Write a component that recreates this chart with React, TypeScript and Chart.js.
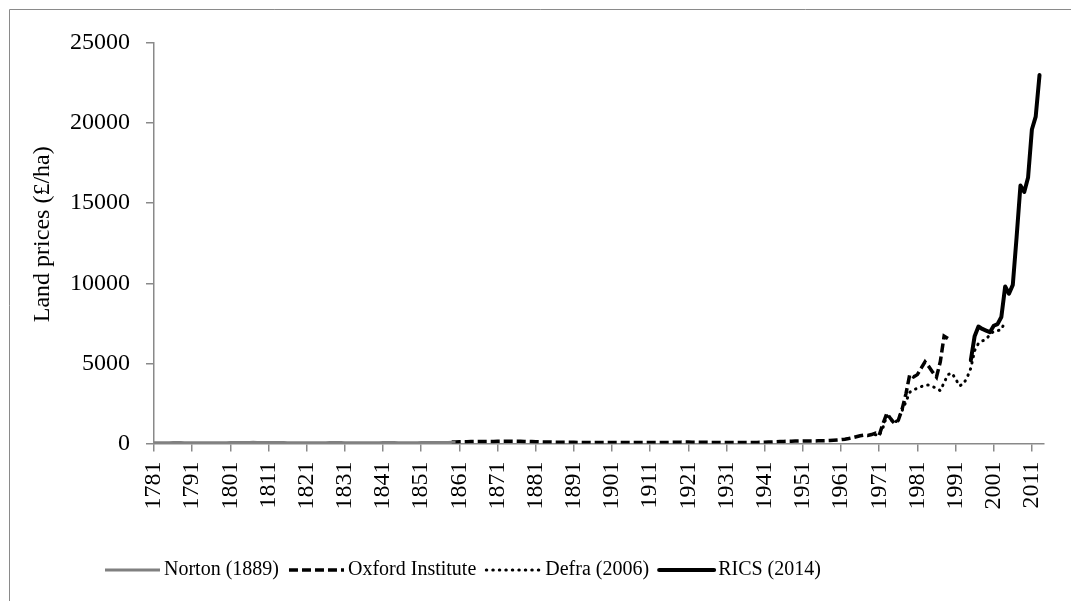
import React, { useEffect, useRef } from "react";
import { Chart, registerables } from "chart.js";

Chart.register(...registerables);

// ---- Axis definitions ----
const FIRST_YEAR = 1781;
const LAST_YEAR = 2014;
const xTickYears = [1781, 1791, 1801, 1811, 1821, 1831, 1841, 1851, 1861, 1871, 1881, 1891, 1901, 1911, 1921, 1931, 1941, 1951, 1961, 1971, 1981, 1991, 2001, 2011];
const yTickValues = [0, 5000, 10000, 15000, 20000, 25000];
const yTitle = "Land prices (£/ha)";

// ---- Series (annual values, £/ha) ----
const nortonLabel = "Norton (1889)";
const nortonStart = 1781;
const nortonValues = [
  40, 42, 45, 48, 52, 55, 58, 55, 50, 47,
  45, 44, 46, 48, 50, 47, 45, 44, 47, 52,
  56, 60, 62, 65, 68, 70, 72, 70, 66, 62,
  60, 62, 64, 60, 55, 50, 48, 47, 45, 44,
  42, 40, 42, 45, 48, 52, 55, 57, 58, 56,
  54, 52, 50, 48, 47, 46, 48, 50, 52, 54,
  56, 58, 57, 55, 52, 50, 49, 50, 52, 54,
  56, 58, 60, 62, 64, 66, 68, 70, 72, 74,
];

const oxfordLabel = "Oxford Institute";
const oxfordStart = 1859;
const oxfordValues = [
  95, 100, 105, 110, 115, 118, 120, 122, 125, 128, 130,
  132, 135, 138, 140, 142, 140, 138, 135, 132, 128,
  120, 112, 105, 100, 95, 90, 85, 82, 80, 78,
  75, 72, 70, 68, 65, 62, 60, 60, 60, 60,
  62, 61, 60, 60, 59, 60, 61, 62, 62, 63,
  64, 64, 65, 66, 66, 66, 68, 72, 78, 85,
  90, 88, 82, 78, 75, 74, 72, 70, 70, 68,
  66, 64, 60, 58, 58, 60, 62, 64, 66, 68,
  72, 80, 90, 100, 110, 120, 130, 140, 145, 150,
  155, 160, 160, 158, 160, 165, 170, 175, 185, 200,
  220, 240, 270, 310, 360, 420, 480, 520, 500, 560,
  650, 520, 1250, 1880, 1550, 1250, 1450, 2150, 3100, 4300,
  4150, 4300, 4700, 5100, 4800, 4450, 4150, 5100, 6700, 6550,
];

const defraLabel = "Defra (2006)";
const defraStart = 1970;
const defraValues = [
  550, 500, 1000, 1750, 1500, 1250, 1550, 2050, 2600, 3200,
  3350, 3450, 3550, 3650, 3650, 3550, 3450, 3300, 3800, 4300,
  4400, 4050, 3600, 3700, 4100, 4700, 5800, 6250, 6400, 6500,
  6800, 7000, 7050, 7100, 7650,
];

const ricsLabel = "RICS (2014)";
const ricsStart = 1995;
const ricsValues = [
  5200, 6700, 7300, 7150, 7050, 6950, 7350, 7450, 7900, 9800,
  9350, 9900, 12900, 16100, 15700, 16600, 19600, 20400, 23000,
];

const FONT = "'Liberation Serif', 'Times New Roman', serif";
const AXIS_GRAY = "#898989";

function toPoints(start: number, values: number[]) {
  return values.map((v, i) => ({ x: start + i, y: v }));
}

const legendPlugin = {
  id: "customLegend",
  afterDraw(chart: any) {
    const ctx = chart.ctx as CanvasRenderingContext2D;
    ctx.save();
    // outer frame (left + top visible)
    ctx.strokeStyle = "#8a8a8a";
    ctx.lineWidth = 1;
    ctx.beginPath();
    ctx.moveTo(9.5, 601);
    ctx.lineTo(9.5, 9.5);
    ctx.lineTo(1071, 9.5);
    ctx.stroke();

    ctx.font = `20px ${FONT}`;
    ctx.textBaseline = "middle";
    ctx.fillStyle = "#000";
    const y = 570;
    let x = 105;
    const lineLen = 55;
    chart.data.datasets.forEach((ds: any) => {
      ctx.save();
      ctx.strokeStyle = ds.borderColor;
      ctx.lineWidth = ds.borderWidth;
      ctx.setLineDash(ds.borderDash || []);
      ctx.lineCap = ds.borderCapStyle || "butt";
      ctx.beginPath();
      ctx.moveTo(x, y);
      ctx.lineTo(x + lineLen, y);
      ctx.stroke();
      ctx.restore();
      x += lineLen + 4;
      ctx.fillText(ds.label, x, y);
      x += ctx.measureText(ds.label).width + 10;
    });
    ctx.restore();
  },
};

export default function App() {
  const ref = useRef<HTMLCanvasElement | null>(null);
  useEffect(() => {
    if (!ref.current) return;
    const chart = new Chart(ref.current, {
      type: "line",
      data: {
        datasets: [
          {
            label: nortonLabel,
            data: toPoints(nortonStart, nortonValues),
            borderColor: "#808080",
            borderWidth: 3,
            pointRadius: 0,
            tension: 0,
          },
          {
            label: oxfordLabel,
            data: toPoints(oxfordStart, oxfordValues),
            borderColor: "#000000",
            borderWidth: 3.5,
            borderDash: [9, 4],
            pointRadius: 0,
            tension: 0,
          },
          {
            label: defraLabel,
            data: toPoints(defraStart, defraValues),
            borderColor: "#000000",
            borderWidth: 3,
            borderDash: [0.5, 6],
            borderCapStyle: "round",
            pointRadius: 0,
            tension: 0,
          },
          {
            label: ricsLabel,
            data: toPoints(ricsStart, ricsValues),
            borderColor: "#000000",
            borderWidth: 4,
            borderJoinStyle: "round",
            borderCapStyle: "round",
            pointRadius: 0,
            tension: 0,
          },
        ] as any,
      },
      options: {
        responsive: false,
        animation: false,
        events: [],
        layout: { padding: { left: 0, right: 24, top: 43, bottom: 57.5 } },
        plugins: { legend: { display: false }, tooltip: { enabled: false } },
        scales: {
          x: {
            type: "linear",
            min: FIRST_YEAR,
            max: LAST_YEAR,
            afterBuildTicks: (s: any) => {
              s.ticks = xTickYears.map((v) => ({ value: v }));
            },
            afterFit: (s: any) => {
              s.height = 100;
            },
            ticks: {
              autoSkip: false,
              minRotation: 90,
              maxRotation: 90,
              padding: 10,
              color: "#000",
              font: { family: FONT, size: 24 },
              callback: (v: any) => String(v),
            },
            grid: { drawOnChartArea: false, drawTicks: true, tickLength: 8, color: AXIS_GRAY, lineWidth: 1.5 },
            border: { color: AXIS_GRAY, width: 1.5 },
          },
          y: {
            min: 0,
            max: 25000,
            afterBuildTicks: (s: any) => {
              s.ticks = yTickValues.map((v) => ({ value: v }));
            },
            afterFit: (s: any) => {
              s.width = 154;
            },
            ticks: {
              padding: 16,
              color: "#000",
              font: { family: FONT, size: 24 },
              callback: (v: any) => String(v),
            },
            grid: { drawOnChartArea: false, drawTicks: true, tickLength: 8, color: AXIS_GRAY, lineWidth: 1.5 },
            border: { color: AXIS_GRAY, width: 1.5 },
            title: {
              display: true,
              // leading spaces nudge the centred title slightly upward, as in the original
              text: "   " + yTitle,
              color: "#000",
              font: { family: FONT, size: 24 },
              padding: { top: 28, bottom: 0 },
            },
          },
        },
      } as any,
      plugins: [legendPlugin],
    });
    return () => chart.destroy();
  }, []);
  return (
    <div style={{ position: "absolute", left: 0, top: 0, width: 1071, height: 601, background: "#fff" }}>
      <canvas ref={ref} width={1071} height={601} style={{ display: "block", width: 1071, height: 601 }} />
    </div>
  );
}
